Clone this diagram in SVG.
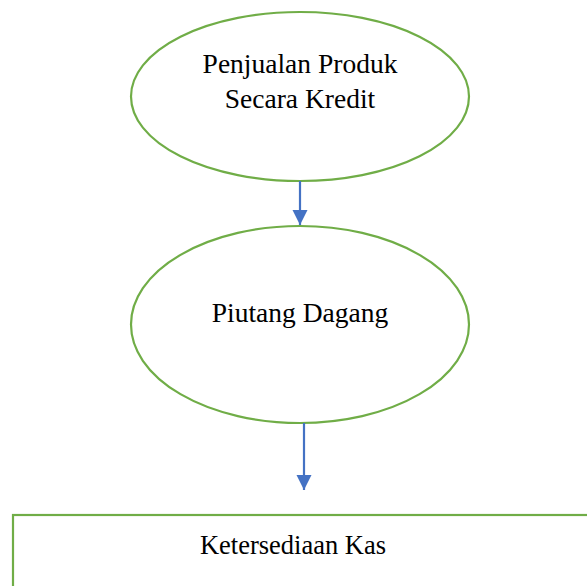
<svg xmlns="http://www.w3.org/2000/svg" width="587" height="586" viewBox="0 0 587 586">
<style>
.shape{fill:#fff;stroke:#70AD47;stroke-width:2.2}
.lbl{font-family:"Liberation Serif","Times New Roman",serif;font-size:27.5px;fill:#000;text-anchor:middle}
.conn{stroke:#4472C4;stroke-width:2.2;fill:none}
</style>
<defs>
<marker id="ah" markerWidth="7" markerHeight="7" refX="7" refY="3.5" orient="auto" markerUnits="strokeWidth">
<path d="M0,0 L7,3.5 L0,7 Z" fill="#4472C4"/>
</marker>
</defs>
<rect width="587" height="586" fill="#fff"/>
<g id="node-penjualan">
<ellipse class="shape" cx="300" cy="96.5" rx="169" ry="84.5"/>
<text class="lbl" x="300" y="73">Penjualan Produk</text>
<text class="lbl" x="300" y="108">Secara Kredit</text>
</g>
<g id="node-piutang">
<ellipse class="shape" cx="300" cy="324.5" rx="169" ry="98.5"/>
<text class="lbl" x="300" y="322">Piutang Dagang</text>
</g>
<g id="node-kas">
<rect class="shape" x="13" y="515" width="590" height="90"/>
<text class="lbl" x="293" y="554" style="font-size:26.5px">Ketersediaan Kas</text>
</g>
<g id="connectors">
<line class="conn" x1="300" y1="181" x2="300" y2="225" marker-end="url(#ah)"/>
<line class="conn" x1="304" y1="423" x2="304" y2="490" marker-end="url(#ah)"/>
</g>
</svg>
